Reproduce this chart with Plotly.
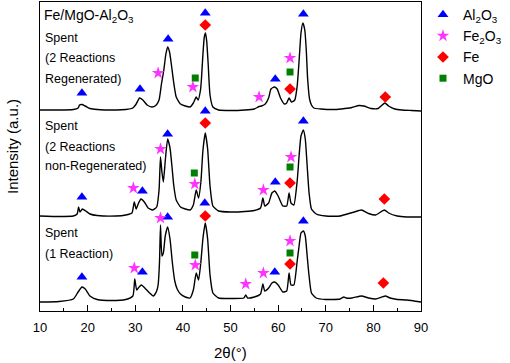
import plotly.graph_objects as go

# ---- XRD curves (2theta in degrees, intensity in arbitrary units) ----
regen_x = [10, 14, 17, 18, 18.3, 18.8, 19.5, 20.5, 22, 26, 28, 29.5, 30.2, 30.9, 31.6, 32.5, 33.5, 34.3,
           35, 35.5, 36, 36.4, 36.8, 37.2, 37.6, 38, 38.6, 39.5, 40.5, 41.5, 42.2, 42.8, 43.2, 43.7, 43.9,
           44.2, 44.5, 44.75, 45.0, 45.3, 45.7, 46.3, 47.5, 50, 53, 55, 56, 56.5, 57.3, 58, 58.5, 59.2, 59.8,
           60.5, 61.3, 61.8, 62.3, 62.8, 63.5, 64.0, 64.4, 64.8, 65.2, 65.6, 65.9, 66.2, 66.6, 67, 67.5, 69,
           72, 74, 75.5, 77, 78, 79.5, 81, 82.4, 83.2, 84.5, 86, 88, 90]
regen_y = [201, 201, 201.5, 203, 206, 206.5, 205, 202.5, 201.5, 201, 201.5, 203, 207, 213, 211, 206, 204, 205.5,
           211, 227, 241, 256, 264, 259, 246, 231, 214, 207, 205, 204, 208, 214, 211, 221, 232,
           256, 274, 278, 270, 248, 216, 204, 201, 200.5, 201, 202, 204.5, 205, 207, 213, 222, 224, 222,
           213, 207, 208, 213, 209, 211, 225, 250, 278, 288, 281, 262, 232, 212, 206, 203, 202,
           201.5, 202.5, 203.5, 205.5, 205, 202.5, 202.5, 208, 205, 202, 201, 200.5, 200]

nonregen_x = [10, 14, 17, 17.8, 18.1, 18.4, 18.9, 19.6, 20.5, 22, 26, 28, 29.3, 29.8, 30.2, 30.7, 31.2, 31.9,
              32.7, 33.6, 34.5, 35.0, 35.3, 35.6, 35.9, 36.3, 36.8, 37.3, 37.7, 38.1, 38.6, 39.5, 40.5, 41.5,
              42.2, 42.8, 43.3, 43.8, 44.2, 44.7, 45.2, 45.7, 46.3, 47.5, 50, 53, 55, 56.3, 56.8, 57.2, 58,
              58.7, 59.3, 60, 61, 61.8, 62.3, 62.7, 63.3, 64.0, 64.4, 64.8, 65.3, 65.7, 66.1, 66.5, 67, 68,
              70, 73, 74.5, 76, 77.5, 79, 80.5, 82.3, 83.2, 85, 87, 90]
nonregen_y = [95, 94.5, 95, 97, 104, 99, 102, 100, 97, 95.5, 95, 96, 98, 109, 102, 108, 112, 109,
              103, 101, 104, 121, 154, 139, 129, 150, 172, 163, 145, 125, 111, 104, 102, 101,
              106, 121, 113, 130, 160, 178, 162, 125, 105, 100, 99, 99.5, 100.5, 103, 113, 105, 108,
              118, 120, 115, 105, 105, 118, 108, 106, 130, 155, 175, 181, 172, 145, 118, 102, 97,
              95, 95, 97, 99, 101, 97.5, 96, 101, 98, 95, 94, 94]

one_x = [10, 14, 17, 18, 18.8, 19.5, 20.5, 22, 25, 28, 29.5, 29.9, 30.3, 30.8, 31.3, 32, 33, 33.8, 34.5,
         34.8, 35.1, 35.3, 35.6, 35.9, 36.3, 36.8, 37.3, 37.8, 38.3, 38.8, 39.5, 40.5, 41.5, 42.2, 42.8,
         43.3, 43.8, 44.2, 44.7, 45.2, 45.7, 46.3, 47.5, 50, 52.8, 53.2, 53.6, 55, 56.3, 56.8, 57.2, 58,
         58.7, 59.3, 60, 61, 61.8, 62.3, 62.7, 63.3, 64.0, 64.4, 64.8, 65.3, 65.7, 66.1, 66.5, 67, 68,
         70, 73, 73.8, 74.3, 75.5, 77.5, 79, 80.5, 82.5, 83.5, 85, 87, 90]
one_y = [9, 9.5, 12, 19, 24, 22, 15, 11.5, 10.5, 11.5, 15, 32, 21, 24, 26, 23, 18, 15, 20,
         26, 50, 86, 55, 58, 75, 84, 72, 48, 30, 22, 17, 14, 13, 21, 38,
         31, 50, 72, 88, 72, 36, 18, 13, 12.5, 13, 16, 13, 14, 17, 27, 20, 23,
         28, 29, 26, 19, 20, 38, 26, 26, 50, 65, 78, 80, 75, 55, 35, 18, 13,
         11.5, 12, 14, 13, 13, 15, 13, 12, 15, 13, 11.5, 11, 9]

# ---- phase markers ----
al2o3_x = [18.8, 31, 36.9, 44.7, 59.4, 65.3, 18.8, 31.5, 36.8, 44.7, 44.6, 59.4, 65.3, 18.8, 31.5, 36.8, 59.3, 65.3]
al2o3_y = [218, 222, 272, 298, 232, 297, 114, 120, 177, 200, 108, 129, 190, 34, 39, 94, 39, 90]
fe2o3_x = [34.8, 42.1, 56.0, 62.5, 29.6, 35.3, 42.5, 56.9, 62.7, 29.8, 35.3, 42.6, 53.2, 56.9, 62.5]
fe2o3_y = [238, 224, 214, 253, 123, 162, 127, 121, 154, 43, 93, 46, 27, 38, 70]
fe_x = [44.7, 62.5, 82.5, 44.7, 62.5, 82.3, 44.7, 62.5, 82.1]
fe_y = [286, 222, 214, 188, 128, 112, 95, 47, 28]
mgo_x = [42.6, 62.5, 42.4, 62.5, 42.5, 62.5]
mgo_y = [233, 239, 138, 144, 56, 58]

x_ticks = [10, 20, 30, 40, 50, 60, 70, 80, 90]

FONT = "Arial, Liberation Sans, sans-serif"
W, H = 510, 363
L, R, T, B = 40, 89, 2, 52
PW, PH = W - L - R, H - T - B

def px(xp):
    return (xp - L) / PW

def py(yp):
    return (H - B - yp) / PH

fig = go.Figure()
for xs, ys in [(regen_x, regen_y), (nonregen_x, nonregen_y), (one_x, one_y)]:
    fig.add_trace(go.Scatter(x=xs, y=ys, mode="lines", line=dict(color="black", width=1.4, shape="spline", smoothing=0.5),
                             showlegend=False, hoverinfo="skip"))

phases = [
    ("Al<sub>2</sub>O<sub>3</sub>", al2o3_x, al2o3_y, "triangle-up", "#0000FF", 9.5),
    ("Fe<sub>2</sub>O<sub>3</sub>", fe2o3_x, fe2o3_y, "star", "#FF33FF", 9.5),
    ("Fe", fe_x, fe_y, "diamond", "#FF0000", 9),
    ("MgO", mgo_x, mgo_y, "square", "#008000", 7),
]
for name, xs, ys, sym, col, sz in phases:
    fig.add_trace(go.Scatter(x=xs, y=ys, mode="markers", name=name,
                             marker=dict(symbol=sym, color=col, size=sz, line=dict(width=0))))

anns = [
    ("Fe/MgO-Al<sub>2</sub>O<sub>3</sub>", 42, 16, 14),
    ("Spent", 43, 38, 12.5),
    ("(2 Reactions", 43, 58, 12.5),
    ("Regenerated)", 43, 79, 12.5),
    ("Spent", 43, 126, 12.5),
    ("(2 Reactions", 43, 147, 12.5),
    ("non-Regenerated)", 43, 166, 12.5),
    ("Spent", 43, 233, 12.5),
    ("(1 Reaction)", 43, 254, 12.5),
]
for txt, xp, yp, fs in anns:
    fig.add_annotation(text=txt, x=px(xp), y=py(yp), xref="paper", yref="paper", xanchor="left", yanchor="middle",
                       showarrow=False, font=dict(family=FONT, size=fs, color="black"))

fig.add_annotation(text="2θ(°)", x=px(230), y=py(352), xref="paper", yref="paper", xanchor="center", yanchor="middle",
                   showarrow=False, font=dict(family=FONT, size=15, color="black"))
fig.add_annotation(text="Intensity (a.u.)", x=px(12), y=py(147), xref="paper", yref="paper", xanchor="center",
                   yanchor="middle", textangle=-90, showarrow=False, font=dict(family=FONT, size=15, color="black"))

fig.update_layout(
    width=W, height=H, margin=dict(l=L, r=R, t=T, b=B, autoexpand=False),
    plot_bgcolor="white", paper_bgcolor="white",
    font=dict(family=FONT, color="black"),
    legend=dict(x=px(423), y=py(-1), xanchor="left", yanchor="top", font=dict(family=FONT, size=14),
                bgcolor="rgba(0,0,0,0)", itemwidth=30, tracegroupgap=0),
    xaxis=dict(range=[10, 90], tickvals=x_ticks, ticks="inside", ticklen=6, tickwidth=1, tickcolor="black",
               showline=True, linecolor="black", linewidth=1, mirror=True, showgrid=False, zeroline=False,
               tickfont=dict(family=FONT, size=13, color="black"), ticklabelstandoff=4,
               minor=dict(ticks="inside", ticklen=3, dtick=5, tickcolor="black", showgrid=False)),
    yaxis=dict(range=[0, 309], showticklabels=False, ticks="", showline=True, linecolor="black", linewidth=1,
               mirror=True, showgrid=False, zeroline=False),
)

fig.write_html("out.html", config={"displayModeBar": False},
               post_script="document.body.style.margin='0';document.body.style.padding='0';")
